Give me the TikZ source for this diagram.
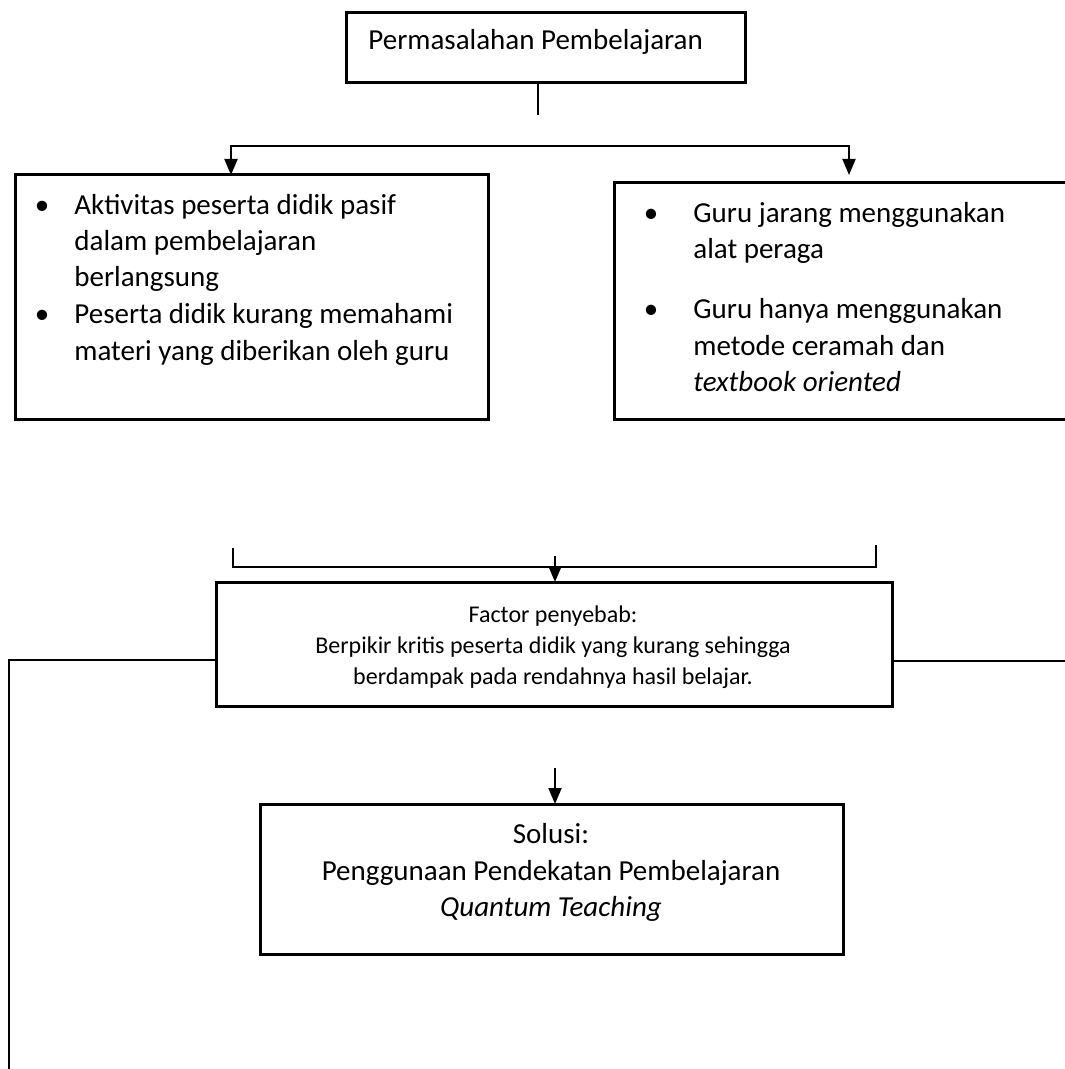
\documentclass[tikz,border=0pt]{standalone}
\usepackage{fontspec}
\setmainfont{Carlito}
\usetikzlibrary{arrows.meta}
\newlength{\du}
\setlength{\du}{0.5pt}

\begin{document}
\begin{tikzpicture}[
  >={Triangle[length=8pt,width=6.5pt]},
  kotak/.style={draw, rectangle, line width=3\du, inner sep=0pt, outer sep=0pt},
  garis/.style={line width=2\du},
  panah/.style={line width=2\du, ->},
  teks/.style={anchor=base west, inner sep=0pt, font=\fontsize{14.5}{17}\selectfont},
  tengah/.style={anchor=base, inner sep=0pt, font=\fontsize{14.5}{17}\selectfont},
  kecil/.style={anchor=base, inner sep=0pt, font=\fontsize{12}{14}\selectfont},
  titik/.style={anchor=base, inner sep=0pt, font=\fontsize{14.5}{17}\selectfont}]
\pgftransformxscale{1.000000}
\pgftransformyscale{-1.000000}
\pgfsetbuttcap
\useasboundingbox (0\du,0\du) rectangle (1064\du,1069\du);
% kotak-kotak
\node[kotak, minimum width=399\du, minimum height=70\du] (masalah) at (545.5\du,48\du) {};
\node[kotak, minimum width=473\du, minimum height=244\du] (sebabA) at (251.5\du,297\du) {};
\node[kotak, minimum width=460\du, minimum height=236\du] (sebabB) at (844\du,301\du) {};
\node[kotak, minimum width=676\du, minimum height=124\du] (faktor) at (554\du,644\du) {};
\node[kotak, minimum width=583\du, minimum height=150\du] (solusi) at (551.5\du,879\du) {};
% titik bantu
\coordinate (m1) at (538\du,115\du);
\coordinate (kiri) at (231\du,146\du);
\coordinate (kanan) at (849\du,146\du);
\coordinate (ujungB) at (849\du,175\du);
\coordinate (ka1) at (233\du,548\du);
\coordinate (ka2) at (233\du,567\du);
\coordinate (kb1) at (876\du,545\du);
\coordinate (kb2) at (876\du,567\du);
\coordinate (f0) at (555\du,556\du);
\coordinate (g1) at (9\du,660\du);
\coordinate (g2) at (9\du,1075\du);
\coordinate (g3) at (1070\du,661\du);
\coordinate (s0) at (555\du,768\du);
% garis penghubung
\draw[garis] (masalah.south -| m1)--(m1);
\draw[garis, <->] (sebabA.north -| kiri)--(kiri)--(kanan)--(ujungB);
\draw[garis] (ka1)--(ka2)--(kb2)--(kb1);
\draw[panah] (f0)--(faktor.north -| f0);
\draw[garis] (g1 -| faktor.west)--(g1)--(g2);
\draw[garis] (g3 -| faktor.east)--(g3);
\draw[panah] (s0)--(solusi.north -| s0);
% teks
\node[teks] (tmasalah) at (368\du,50\du) {Permasalahan Pembelajaran};
\node[titik] (bA1) at (42\du,215\du) {\textbullet};
\node[teks] (tA1) at (74\du,215\du) {Aktivitas peserta didik pasif};
\node[teks] (tA2) at (74\du,251\du) {dalam pembelajaran};
\node[teks] (tA3) at (74\du,287\du) {berlangsung};
\node[titik] (bA2) at (42\du,323\du) {\textbullet};
\node[teks] (tA4) at (74\du,323\du) {Peserta didik kurang memahami};
\node[teks] (tA5) at (74\du,360\du) {materi yang diberikan oleh guru};
\node[titik] (bB1) at (651\du,223\du) {\textbullet};
\node[teks] (tB1) at (693\du,223\du) {Guru jarang menggunakan};
\node[teks] (tB2) at (693\du,259\du) {alat peraga};
\node[titik] (bB2) at (651\du,319\du) {\textbullet};
\node[teks] (tB3) at (693\du,319\du) {Guru hanya menggunakan};
\node[teks] (tB4) at (693\du,355\du) {metode ceramah dan};
\node[teks] (tB5) at (693\du,391\du) {\textit{textbook oriented}};
\node[kecil] (tF1) at (553\du,622\du) {Factor penyebab:};
\node[kecil] (tF2) at (553\du,653\du) {Berpikir kritis peserta didik yang kurang sehingga};
\node[kecil] (tF3) at (553\du,684\du) {berdampak pada rendahnya hasil belajar.};
\node[tengah] (tS1) at (551\du,843\du) {Solusi:};
\node[tengah] (tS2) at (551\du,880\du) {Penggunaan Pendekatan Pembelajaran};
\node[tengah] (tS3) at (551\du,916\du) {\textit{Quantum Teaching}};
\end{tikzpicture}
\end{document}
